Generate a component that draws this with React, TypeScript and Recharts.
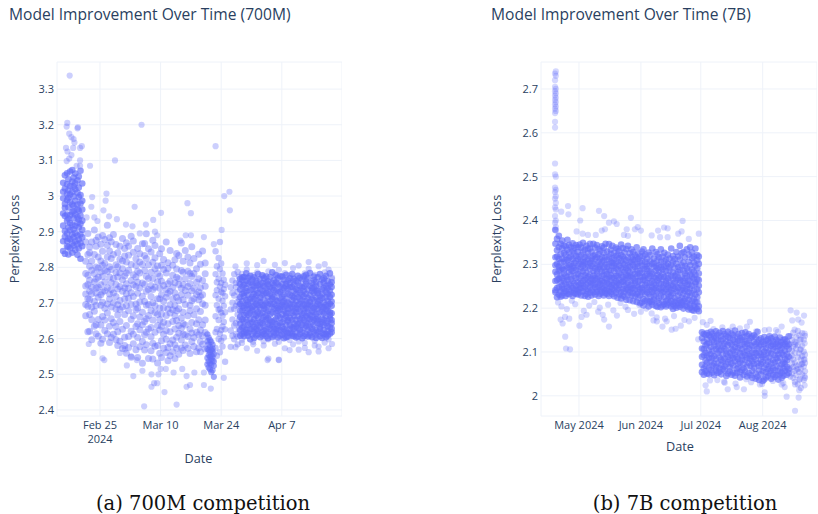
import React from "react";
import { ScatterChart, Scatter, XAxis, YAxis, CartesianGrid } from "recharts";

const FONT = '"Open Sans", sans-serif';
const INK = "#2a3f5f";
const DOT = "#636efa";
const GRID = "#eef2f9";

// ---------- 700M panel: days since Feb 25 2024, loss in thousandths ----------
const xTicks700 = [0, 14, 28, 42];
const xLabels700 = ["Feb 25\n2024", "Mar 10", "Mar 24", "Apr 7"];
const yTicks700 = [2.4, 2.5, 2.6, 2.7, 2.8, 2.9, 3, 3.1, 3.2, 3.3];

const startDays700 = [-8.5, -8.1, -7.6, -7.3, -6.9, -6.4, -6.1, -5.7, -5.2, -4.9, -4.5, -4.1];
const startLoss700 = [
  [2873, 2994, 2917, 3037, 2951, 2846, 3012],
  [2902, 3058, 2967, 2838, 2886, 3021, 2944, 2978],
  [3064, 2931, 2859, 2989, 3006, 2895, 2948, 2874, 3033],
  [2912, 2836, 3047, 2968, 2881, 3016, 2937, 2995, 2857],
  [2983, 3069, 2904, 2853, 3028, 2946, 2879, 2924, 3004],
  [2867, 2955, 3041, 2892, 3011, 2976, 2919, 2841, 3073],
  [3027, 2938, 2884, 2999, 2861, 2957, 3052, 2907, 2972],
  [2948, 2873, 3063, 2916, 3019, 2987, 2849, 2896, 3036],
  [2889, 3009, 2963, 2835, 2925, 3044, 2976, 2865, 2941],
  [3055, 2934, 2997, 2878, 2912, 3024, 2853, 2959],
  [2868, 3003, 2945, 3071, 2893, 2824, 2979, 2922],
  [2962, 2905, 3035, 2859, 2987, 2931, 2884],
];

const cloudDays700 = [-3.3, -2.8, -2.4, -1.9, -1.3, -0.9, -0.4, 0.2, 0.6, 1.1, 1.7, 2.2, 2.6, 3.1, 3.7, 4.1, 4.6, 5.2, 5.7, 6.1, 6.6, 7.2, 7.7, 8.3, 8.7, 9.2, 9.8, 10.3, 10.7, 11.2, 11.8, 12.2, 12.7, 13.3, 13.8, 14.2, 14.7, 15.3, 15.7, 16.2, 16.8, 17.3, 17.7, 18.2, 18.8, 19.2, 19.7, 20.3, 20.8, 21.2, 21.7, 22.3, 22.8, 23.2, 23.7, 24.3];
const cloudLoss700 = [
  [2664, 2783, 2817, 2725, 2871, 2696, 2748],
  [2752, 2619, 2836, 2691, 2778, 2895, 2712],
  [2803, 2733, 2668, 2857, 2621, 2764, 2709, 2841],
  [2688, 2792, 2597, 2744, 2871, 2726, 2818, 2653],
  [2836, 2635, 2759, 2704, 2905, 2783, 2677],
  [2614, 2741, 2859, 2693, 2801, 2767, 2876, 2639, 2728],
  [2772, 2885, 2654, 2716, 2829, 2607, 2744, 2798],
  [2694, 2818, 2587, 2751, 2865, 2638, 2787, 2723],
  [2845, 2731, 2662, 2806, 2598, 2774, 2889, 2702],
  [2623, 2759, 2878, 2685, 2811, 2734, 2652, 2791],
  [2788, 2697, 2862, 2614, 2743, 2829, 2672, 2918],
  [2711, 2846, 2635, 2773, 2589, 2802, 2725, 2883],
  [2757, 2603, 2825, 2689, 2794, 2656, 2872, 2738],
  [2836, 2728, 2645, 2769, 2892, 2701, 2612],
  [2683, 2807, 2597, 2752, 2864, 2718, 2785, 2634],
  [2773, 2619, 2841, 2695, 2581, 2739, 2802, 2666],
  [2859, 2707, 2648, 2784, 2593, 2746, 2682, 2823],
  [2626, 2765, 2881, 2689, 2818, 2572, 2733, 2796],
  [2742, 2604, 2853, 2668, 2776, 2711, 2581, 2832],
  [2815, 2693, 2559, 2754, 2637, 2869, 2726, 2784],
  [2678, 2834, 2606, 2741, 2792, 2575, 2713, 2859],
  [2763, 2621, 2887, 2696, 2548, 2808, 2654, 2729],
  [2842, 2586, 2718, 2664, 2779, 2612, 2751, 2874],
  [2697, 2805, 2634, 2569, 2746, 2824, 2681, 2773],
  [2603, 2758, 2853, 2686, 2727, 2547, 2789, 2642],
  [2784, 2661, 2577, 2815, 2703, 2838, 2625, 2742],
  [2719, 2592, 2866, 2674, 2756, 2531, 2808, 2639],
  [2648, 2791, 2704, 2568, 2833, 2752, 2611, 2867],
  [2825, 2583, 2733, 2656, 2894, 2694, 2775, 2618],
  [2696, 2769, 2544, 2807, 2627, 2738, 2852, 2665],
  [2749, 2605, 2843, 2679, 2566, 2786, 2718, 2631],
  [2587, 2814, 2701, 2652, 2769, 2876, 2738, 2543],
  [2673, 2796, 2618, 2744, 2579, 2827, 2692, 2861],
  [2759, 2637, 2532, 2712, 2804, 2668, 2581, 2783],
  [2624, 2838, 2686, 2741, 2559, 2775, 2653, 2712],
  [2806, 2594, 2723, 2669, 2852, 2547, 2761, 2635],
  [2687, 2749, 2573, 2822, 2612, 2705, 2794, 2646],
  [2561, 2738, 2665, 2871, 2598, 2784, 2716, 2623],
  [2797, 2642, 2727, 2538, 2683, 2813, 2575, 2754],
  [2619, 2761, 2695, 2847, 2586, 2672, 2733, 2552],
  [2744, 2563, 2806, 2648, 2711, 2596, 2778, 2681],
  [2583, 2693, 2821, 2627, 2757, 2544, 2728, 2664],
  [2716, 2839, 2604, 2678, 2772, 2573, 2651, 2795],
  [2637, 2752, 2556, 2706, 2833, 2615, 2684, 2768],
  [2791, 2596, 2723, 2658, 2868, 2574, 2741, 2629],
  [2612, 2709, 2786, 2567, 2674, 2817, 2752, 2642],
  [2735, 2638, 2847, 2582, 2696, 2768, 2611],
  [2573, 2789, 2664, 2722, 2606, 2829, 2746],
  [2694, 2812, 2627, 2755, 2558, 2678, 2783],
  [2645, 2734, 2591, 2858, 2706, 2616, 2774],
  [2783, 2603, 2712, 2667, 2825, 2578, 2741],
  [2618, 2758, 2684, 2796, 2563, 2724, 2642],
  [2709, 2574, 2837, 2653, 2768, 2611, 2731],
  [2592, 2743, 2676, 2809, 2624, 2718, 2563],
  [2763, 2639, 2584, 2723, 2846, 2698, 2608],
  [2617, 2694, 2782, 2571, 2747, 2652, 2812],
];

const dipDays700 = [24.8, 25.1, 25.4, 25.7, 26, 26.3];
const dipLoss700 = [
  [2593, 2546, 2612, 2571, 2528],
  [2554, 2584, 2519, 2536, 2603, 2568],
  [2577, 2531, 2562, 2549, 2596, 2514],
  [2542, 2591, 2568, 2527, 2553, 2506],
  [2565, 2538, 2583, 2511, 2549, 2572],
  [2524, 2557, 2493, 2536],
];

const nextDays700 = [26.7, 27, 27.4, 27.7, 28, 28.3, 28.6, 28.9];
const nextLoss700 = [
  [2663, 2781, 2618, 2722, 2845, 2574],
  [2736, 2627, 2803, 2694, 2758, 2552],
  [2652, 2768, 2599, 2712, 2826, 2681],
  [2795, 2683, 2746, 2614, 2871, 2562],
  [2624, 2731, 2673, 2811, 2594, 2756],
  [2706, 2634, 2783, 2578, 2664, 2728],
  [2647, 2765, 2692, 2603, 2739],
  [2719, 2626, 2674, 2751, 2535],
];

const edgeDays700 = [30.2, 30.6, 31, 31.4, 31.8, 32.1];
const edgeLoss700 = [
  [2623, 2744, 2682, 2577],
  [2701, 2608, 2763, 2654, 2728],
  [2637, 2781, 2684, 2598, 2721],
  [2756, 2613, 2692, 2744, 2643],
  [2606, 2731, 2668, 2787, 2703, 2584],
  [2694, 2627, 2756, 2652, 2712, 2773],
];

const blockDays700 = [32.4, 32.9, 33.3, 33.8, 34.2, 34.7, 35.2, 35.6, 36.1, 36.5, 37, 37.5, 37.9, 38.4, 38.8, 39.3, 39.8, 40.2, 40.7, 41.1, 41.6, 42.1, 42.5, 43, 43.4, 43.9, 44.4, 44.8, 45.3, 45.7, 46.2, 46.7, 47.1, 47.6, 48, 48.5, 49, 49.4, 49.9, 50.3, 50.8, 51.3, 51.7, 52.2, 52.6, 53.1, 53.5];
const blockLoss700 = [
  [2661, 2738, 2624, 2697, 2753, 2642, 2716, 2678, 2768, 2608],
  [2705, 2631, 2764, 2679, 2613, 2726, 2654, 2746, 2691, 2772],
  [2648, 2719, 2607, 2773, 2687, 2634, 2751, 2666, 2729, 2617],
  [2742, 2671, 2625, 2708, 2783, 2653, 2694, 2618, 2762, 2733],
  [2616, 2695, 2754, 2638, 2722, 2667, 2771, 2608, 2703, 2683],
  [2685, 2758, 2643, 2712, 2627, 2776, 2672, 2736, 2598, 2655],
  [2737, 2612, 2679, 2766, 2646, 2704, 2628, 2751, 2689, 2718],
  [2654, 2725, 2602, 2693, 2772, 2633, 2747, 2668, 2711, 2619],
  [2698, 2763, 2627, 2736, 2664, 2609, 2755, 2682, 2643, 2721],
  [2622, 2707, 2674, 2781, 2638, 2749, 2693, 2613, 2728, 2658],
  [2751, 2646, 2715, 2604, 2687, 2767, 2631, 2702, 2669, 2739],
  [2671, 2734, 2618, 2756, 2694, 2643, 2609, 2723, 2778, 2652],
  [2613, 2692, 2747, 2661, 2726, 2635, 2769, 2684, 2708, 2623],
  [2728, 2653, 2607, 2774, 2681, 2741, 2626, 2699, 2665, 2758],
  [2642, 2716, 2761, 2619, 2677, 2733, 2601, 2695, 2752, 2657],
  [2697, 2628, 2744, 2668, 2773, 2612, 2725, 2651, 2706, 2638],
  [2756, 2673, 2634, 2712, 2604, 2786, 2689, 2741, 2646, 2721],
  [2618, 2736, 2683, 2651, 2764, 2698, 2627, 2717, 2609, 2749],
  [2707, 2641, 2778, 2672, 2615, 2733, 2656, 2693, 2757, 2626],
  [2664, 2752, 2623, 2705, 2686, 2769, 2636, 2729, 2603, 2678],
  [2731, 2608, 2691, 2659, 2746, 2624, 2713, 2775, 2643, 2682],
  [2646, 2718, 2774, 2633, 2695, 2611, 2754, 2668, 2737, 2702],
  [2689, 2627, 2742, 2656, 2765, 2705, 2619, 2678, 2724, 2601],
  [2754, 2663, 2712, 2604, 2693, 2638, 2779, 2747, 2621, 2672],
  [2615, 2701, 2648, 2763, 2727, 2671, 2606, 2739, 2684, 2652],
  [2723, 2637, 2769, 2685, 2616, 2744, 2658, 2697, 2626, 2756],
  [2672, 2745, 2609, 2708, 2653, 2781, 2632, 2719, 2689, 2614],
  [2628, 2696, 2751, 2664, 2733, 2607, 2677, 2768, 2642, 2715],
  [2739, 2652, 2618, 2725, 2686, 2762, 2635, 2704, 2603, 2674],
  [2683, 2606, 2757, 2641, 2716, 2663, 2776, 2694, 2629, 2736],
  [2613, 2729, 2676, 2748, 2625, 2698, 2654, 2711, 2771, 2644],
  [2766, 2691, 2638, 2707, 2617, 2743, 2668, 2601, 2724, 2658],
  [2652, 2718, 2775, 2683, 2629, 2734, 2607, 2696, 2746, 2672],
  [2705, 2636, 2761, 2664, 2753, 2612, 2687, 2726, 2645, 2779],
  [2624, 2697, 2658, 2738, 2673, 2606, 2769, 2714, 2641, 2684],
  [2748, 2615, 2703, 2666, 2784, 2632, 2722, 2655, 2693, 2609],
  [2677, 2741, 2628, 2756, 2692, 2647, 2712, 2604, 2733, 2662],
  [2619, 2708, 2764, 2652, 2729, 2675, 2637, 2774, 2686, 2743],
  [2734, 2656, 2691, 2611, 2759, 2623, 2716, 2669, 2602, 2747],
  [2661, 2727, 2643, 2772, 2684, 2735, 2618, 2704, 2651, 2698],
  [2708, 2632, 2753, 2674, 2607, 2719, 2641, 2781, 2693, 2627],
  [2646, 2738, 2689, 2616, 2765, 2656, 2725, 2602, 2714, 2676],
  [2757, 2671, 2624, 2701, 2742, 2638, 2688, 2769, 2612, 2653],
  [2613, 2694, 2748, 2663, 2731, 2604, 2716, 2643, 2776, 2682],
  [2726, 2649, 2707, 2621, 2761, 2678, 2609, 2742, 2691, 2635],
  [2674, 2752, 2632, 2717, 2656, 2783, 2698, 2614, 2734, 2666],
  [2628, 2704, 2745, 2652, 2692, 2618, 2723, 2671, 2758, 2643],
];

const fringeDays700 = [31.3, 32.8, 33.9, 35.4, 36.3, 37.8, 38.9, 40.4, 41.3, 42.7, 43.8, 44.6, 45.9, 47.3, 48.2, 49.6, 50.5, 51.9, 52.8, 53.6];
const fringeLoss700 = [
  [2576, 2803],
  [2588, 2782, 2597],
  [2573, 2794, 2811],
  [2591, 2778, 2584],
  [2566, 2806, 2786],
  [2593, 2775, 2581, 2818],
  [2544, 2789, 2598],
  [2586, 2807, 2781],
  [2541, 2793, 2591],
  [2573, 2812, 2784],
  [2596, 2777, 2568],
  [2584, 2798, 2762],
  [2569, 2805, 2592],
  [2588, 2783, 2574],
  [2562, 2796, 2815],
  [2594, 2779, 2581],
  [2578, 2803, 2564],
  [2589, 2786, 2809],
  [2573, 2794, 2598],
  [2585, 2771, 2768],
];

const outDays700 = [-7, -7.55, -7.7, -5.2, -5.1, -7.1, -6.6, -6.1, -5.9, -4.2, -4.6, -7.85, -7.5, -6.2, -6.6, -7.1, -7.7, -4.6, -5.4, -4.6, -2.3, 9.6, 3.46, 26.7, 1.5, -1.8, 1.3, -2, 8, 0.8, 20.2, 21, 14.1, 29.9, 28.7, 30, 2.1, 3.9, 12.3, 10.6, 6, -1.3, -0.6, -3.1, 28.1, 19.8, 21, 24, 26.3, 12.7, 13.2, 7.5, 9.2, 18.6, -1.5, -2.6, 1, 0.6, 4.6, 5.8, 7.2, 6.2, 8.5, 7.7, 9.8, 11.9, 13.5, 14, 15.2, 17, 19, 20, 21.8, 24, 11.9, 12.5, 13.2, 14.9, 10.2, 17.7, 20, 20.8, 24, 25.6, 28.6, 38.7, 41.3];
const outLoss700 = [3.338, 3.205, 3.195, 3.19, 3.193, 3.175, 3.165, 3.16, 3.15, 3.14, 3.135, 3.135, 3.125, 3.135, 3.115, 3.105, 3.098, 3.1, 3.085, 3.085, 3.085, 3.2, 3.1, 3.14, 3.007, 2.997, 2.987, 2.97, 2.97, 2.96, 2.98, 2.952, 2.953, 3.012, 3, 2.96, 2.943, 2.935, 2.933, 2.92, 2.92, 2.94, 2.93, 2.94, 2.905, 2.89, 2.89, 2.885, 2.865, 2.9, 2.89, 2.915, 2.895, 2.875, 2.56, 2.585, 2.54, 2.545, 2.56, 2.57, 2.55, 2.525, 2.54, 2.495, 2.51, 2.5, 2.5, 2.515, 2.515, 2.505, 2.515, 2.495, 2.505, 2.505, 2.465, 2.475, 2.475, 2.45, 2.41, 2.415, 2.465, 2.47, 2.47, 2.46, 2.49, 2.54, 2.54];

// ---------- 7B panel: days since May 1 2024, loss in thousandths ----------
const xTicks7b = [0, 31, 61, 92];
const xLabels7b = ["May 2024", "Jun 2024", "Jul 2024", "Aug 2024"];
const yTicks7b = [2, 2.1, 2.2, 2.3, 2.4, 2.5, 2.6, 2.7];

const stackDays7b = [-12, -11.6];
const stackLoss7b = [
  [2612, 2625, 2645, 2655, 2665, 2675, 2685, 2695, 2705, 2720, 2735, 2530, 2505, 2475, 2465, 2450, 2430, 2410, 2395, 2380],
  [2650, 2660, 2670, 2680, 2690, 2700, 2730, 2740, 2500, 2470, 2455, 2440, 2425, 2400, 2385],
];

const springDays7b = [-11.8, -11, -10.1, -9.2, -8.4, -7.5, -6.7, -5.8, -4.9, -4.1, -3.2, -2.3, -1.5, -0.6, 0.3, 1.1, 2, 2.9, 3.7, 4.6, 5.5, 6.3, 7.2, 8.1, 8.9, 9.8, 10.7, 11.5, 12.4, 13.3, 14.1, 15, 15.9, 16.7, 17.6, 18.5, 19.3, 20.2, 21.1, 21.9, 22.8, 23.7, 24.5, 25.4, 26.3, 27.1, 28, 28.9, 29.7, 30.6, 31.5, 32.3, 33.2, 34.1, 34.9, 35.8, 36.7, 37.5, 38.4, 39.3, 40.1, 41, 41.9, 42.7, 43.6, 44.5, 45.3, 46.2, 47.1, 47.9, 48.8, 49.7, 50.5, 51.4, 52.3, 53.1, 54, 54.9, 55.7, 56.6, 57.5, 58.3, 59.2, 60];
const springLoss7b = [
  [2347, 2283, 2241, 2316, 2262, 2378, 2298, 2236],
  [2264, 2332, 2225, 2301, 2358, 2277, 2246, 2318],
  [2312, 2248, 2365, 2286, 2231, 2339, 2267, 2295],
  [2238, 2304, 2273, 2347, 2259, 2323, 2226, 2288],
  [2336, 2252, 2291, 2229, 2313, 2268, 2354, 2245],
  [2279, 2343, 2235, 2306, 2261, 2326, 2287, 2244],
  [2322, 2256, 2296, 2228, 2341, 2273, 2311, 2239],
  [2248, 2309, 2271, 2333, 2233, 2292, 2356, 2264],
  [2298, 2232, 2327, 2254, 2283, 2344, 2242, 2315],
  [2266, 2318, 2237, 2301, 2276, 2339, 2251, 2289],
  [2331, 2246, 2285, 2228, 2312, 2262, 2348, 2296],
  [2256, 2303, 2241, 2325, 2274, 2234, 2292, 2337],
  [2308, 2269, 2233, 2344, 2287, 2251, 2319, 2243],
  [2241, 2296, 2328, 2259, 2312, 2231, 2278, 2339],
  [2317, 2254, 2283, 2345, 2236, 2301, 2268, 2245],
  [2273, 2338, 2229, 2293, 2257, 2321, 2246, 2307],
  [2329, 2262, 2306, 2238, 2284, 2349, 2251, 2297],
  [2247, 2316, 2275, 2333, 2228, 2291, 2264, 2305],
  [2302, 2239, 2342, 2268, 2318, 2254, 2281, 2232],
  [2258, 2295, 2325, 2243, 2311, 2272, 2336, 2226],
  [2336, 2276, 2235, 2303, 2261, 2347, 2289, 2248],
  [2241, 2314, 2267, 2296, 2229, 2328, 2256, 2308],
  [2285, 2347, 2253, 2319, 2236, 2274, 2301, 2264],
  [2312, 2247, 2291, 2231, 2338, 2269, 2322, 2255],
  [2237, 2299, 2266, 2344, 2278, 2243, 2316, 2285],
  [2323, 2258, 2306, 2228, 2272, 2335, 2249, 2293],
  [2263, 2331, 2241, 2289, 2312, 2254, 2298, 2233],
  [2304, 2236, 2274, 2341, 2262, 2317, 2284, 2247],
  [2245, 2293, 2326, 2259, 2308, 2229, 2276, 2338],
  [2316, 2268, 2234, 2299, 2252, 2347, 2284, 2241],
  [2257, 2329, 2278, 2243, 2311, 2266, 2233, 2294],
  [2301, 2239, 2346, 2272, 2318, 2255, 2287, 2228],
  [2248, 2286, 2333, 2262, 2306, 2237, 2275, 2324],
  [2314, 2253, 2296, 2232, 2342, 2269, 2303, 2245],
  [2269, 2326, 2241, 2284, 2311, 2256, 2227, 2297],
  [2235, 2302, 2274, 2338, 2249, 2319, 2261, 2291],
  [2321, 2258, 2288, 2224, 2306, 2243, 2273, 2335],
  [2246, 2297, 2331, 2264, 2231, 2314, 2279, 2253],
  [2308, 2236, 2276, 2345, 2259, 2292, 2222, 2321],
  [2261, 2318, 2243, 2288, 2229, 2302, 2271, 2337],
  [2299, 2226, 2264, 2327, 2251, 2312, 2283, 2238],
  [2244, 2291, 2335, 2268, 2309, 2219, 2276, 2254],
  [2316, 2258, 2231, 2297, 2273, 2342, 2241, 2286],
  [2272, 2325, 2236, 2281, 2304, 2248, 2218, 2294],
  [2229, 2306, 2262, 2334, 2244, 2317, 2275, 2253],
  [2311, 2246, 2288, 2216, 2299, 2234, 2268, 2328],
  [2257, 2294, 2321, 2227, 2278, 2242, 2309, 2263],
  [2301, 2233, 2272, 2339, 2251, 2286, 2214, 2316],
  [2248, 2312, 2224, 2279, 2296, 2261, 2325, 2236],
  [2285, 2211, 2263, 2318, 2243, 2304, 2272, 2229],
  [2236, 2297, 2329, 2254, 2213, 2281, 2246, 2308],
  [2319, 2265, 2221, 2289, 2241, 2334, 2271, 2206],
  [2252, 2306, 2232, 2274, 2295, 2217, 2263, 2322],
  [2289, 2218, 2258, 2313, 2236, 2301, 2246, 2277],
  [2213, 2284, 2327, 2249, 2204, 2269, 2296, 2233],
  [2307, 2241, 2273, 2216, 2321, 2258, 2226, 2283],
  [2262, 2301, 2208, 2279, 2237, 2336, 2248, 2214],
  [2228, 2294, 2256, 2313, 2219, 2271, 2243, 2303],
  [2285, 2205, 2246, 2328, 2268, 2231, 2296, 2252],
  [2217, 2276, 2309, 2238, 2263, 2203, 2291, 2323],
  [2298, 2224, 2257, 2211, 2283, 2244, 2316, 2269],
  [2241, 2305, 2202, 2272, 2228, 2293, 2255, 2334],
  [2279, 2214, 2266, 2318, 2236, 2206, 2288, 2247],
  [2209, 2294, 2253, 2226, 2307, 2271, 2238, 2326],
  [2262, 2217, 2311, 2243, 2284, 2204, 2256, 2297],
  [2301, 2232, 2275, 2208, 2322, 2249, 2268, 2219],
  [2226, 2286, 2246, 2313, 2212, 2261, 2293, 2237],
  [2274, 2204, 2253, 2336, 2228, 2299, 2241, 2216],
  [2209, 2266, 2306, 2234, 2281, 2198, 2319, 2251],
  [2292, 2223, 2258, 2205, 2273, 2244, 2312, 2214],
  [2238, 2301, 2201, 2264, 2217, 2328, 2278, 2249],
  [2283, 2211, 2246, 2294, 2229, 2206, 2269, 2318],
  [2203, 2257, 2311, 2236, 2287, 2218, 2342, 2264],
  [2271, 2224, 2298, 2208, 2251, 2325, 2242, 2213],
  [2216, 2285, 2233, 2304, 2199, 2262, 2328, 2246],
  [2296, 2206, 2258, 2221, 2279, 2239, 2316, 2268],
  [2228, 2273, 2204, 2334, 2252, 2291, 2213, 2243],
  [2263, 2197, 2306, 2236, 2284, 2219, 2322, 2254],
  [2209, 2276, 2245, 2298, 2201, 2339, 2229, 2261],
  [2288, 2216, 2314, 2251, 2196, 2272, 2234, 2327],
  [2241, 2304, 2206, 2268, 2221, 2283, 2318, 2194],
  [2276, 2201, 2255, 2336, 2214, 2297, 2231, 2259],
  [2213, 2291, 2243, 2198, 2309, 2266, 2225, 2321],
  [2264, 2204, 2318, 2236, 2279, 2193, 2251, 2301],
];

const summerDays7b = [61.6, 62.5, 63.4, 64.2, 65.1, 66, 66.8, 67.7, 68.6, 69.4, 70.3, 71.2, 72, 72.9, 73.8, 74.6, 75.5, 76.4, 77.2, 78.1, 79, 79.8, 80.7, 81.6, 82.4, 83.3, 84.2, 85, 85.9, 86.8, 87.6, 88.5, 89.4, 90.2, 91.1, 92, 92.8, 93.7, 94.6, 95.4, 96.3, 97.2, 98, 98.9, 99.8, 100.6, 101.5, 102.4, 103.2, 104.1, 105];
const summerLoss7b = [
  [2132, 2071, 2108, 2054, 2145, 2089],
  [2062, 2124, 2093, 2141, 2048, 2107],
  [2115, 2056, 2139, 2081, 2098, 2068],
  [2076, 2143, 2051, 2118, 2092, 2129],
  [2138, 2087, 2064, 2104, 2049, 2121],
  [2059, 2112, 2146, 2078, 2095, 2134],
  [2101, 2069, 2127, 2053, 2142, 2086],
  [2123, 2047, 2091, 2114, 2073, 2136],
  [2084, 2131, 2058, 2106, 2147, 2066],
  [2052, 2097, 2125, 2074, 2139, 2112],
  [2118, 2063, 2088, 2144, 2055, 2103],
  [2071, 2136, 2105, 2049, 2126, 2082],
  [2129, 2094, 2061, 2148, 2079, 2113],
  [2058, 2108, 2141, 2085, 2119, 2067],
  [2096, 2045, 2124, 2072, 2137, 2103],
  [2134, 2077, 2051, 2116, 2089, 2146],
  [2065, 2121, 2098, 2056, 2132, 2083],
  [2107, 2142, 2074, 2117, 2048, 2092],
  [2086, 2053, 2128, 2104, 2138, 2069],
  [2123, 2079, 2046, 2111, 2094, 2149],
  [2061, 2135, 2088, 2052, 2119, 2101],
  [2109, 2073, 2141, 2084, 2064, 2126],
  [2054, 2097, 2131, 2076, 2115, 2042],
  [2128, 2083, 2059, 2106, 2143, 2091],
  [2072, 2118, 2048, 2099, 2134, 2063],
  [2112, 2145, 2081, 2055, 2124, 2093],
  [2067, 2103, 2137, 2044, 2087, 2119],
  [2095, 2052, 2126, 2075, 2141, 2108],
  [2132, 2069, 2091, 2116, 2047, 2084],
  [2057, 2113, 2079, 2136, 2098, 2041],
  [2104, 2138, 2064, 2088, 2123, 2072],
  [2083, 2051, 2118, 2097, 2133, 2039],
  [2121, 2074, 2044, 2107, 2146, 2092],
  [2058, 2099, 2128, 2068, 2113, 2036],
  [2094, 2131, 2049, 2082, 2117, 2073],
  [2034, 2106, 2077, 2123, 2056, 2089],
  [2118, 2064, 2093, 2037, 2134, 2101],
  [2071, 2042, 2109, 2085, 2126, 2054],
  [2098, 2129, 2061, 2116, 2045, 2078],
  [2052, 2088, 2122, 2067, 2103, 2136],
  [2114, 2039, 2096, 2074, 2131, 2057],
  [2082, 2124, 2048, 2107, 2063, 2117],
  [2043, 2093, 2135, 2076, 2112, 2058],
  [2119, 2068, 2102, 2047, 2086, 2128],
  [2079, 2037, 2113, 2094, 2056, 2124],
  [2104, 2133, 2064, 2087, 2116, 2049],
  [2053, 2097, 2122, 2072, 2108, 2041],
  [2116, 2076, 2046, 2093, 2128, 2062],
  [2084, 2129, 2057, 2103, 2073, 2118],
  [2048, 2095, 2113, 2066, 2124, 2081],
  [2107, 2061, 2136, 2089, 2052, 2117],
];

const lateDays7b = [105.8, 106.6, 107.3, 108.1, 108.8, 109.6, 110.3, 111.1, 111.8, 112.6, 113.2];
const lateLoss7b = [
  [2063, 2118, 2087, 2044, 2136],
  [2103, 2051, 2127, 2074, 2092],
  [2041, 2144, 2083, 2112, 2066],
  [2123, 2076, 2032, 2098, 2057],
  [2069, 2134, 2108, 2047, 2121],
  [2088, 2026, 2116, 2061, 2148],
  [2037, 2097, 2071, 2138, 2054],
  [2129, 2083, 2018, 2106, 2062],
  [2049, 2114, 2073, 2143, 2091],
  [2101, 2036, 2067, 2128, 2082],
  [2056, 2137, 2094, 2041, 2075],
];

const outDays7b = [-5.5, 1.8, -5.3, -8.9, 10, 12.6, 0.6, 15, 17.5, 18.9, 26, 51.9, 29.4, 28, 42.6, 44.4, 39.6, 31, 13, 11.4, 23.9, 51.4, 49.7, 60, 8.4, 22.5, 24.5, -1.2, 1.8, 4.5, 36.4, 55, 40.6, 44.4, -6.9, -6.5, -4.5, -9.2, -8.2, -7, -4.9, 0.2, 1.3, 3.8, 9.6, 12.6, 11.9, 15, 19, 24.5, 31, 36.4, 37.3, 39, 41.8, 43.9, 46.4, 48.4, 51, 55.1, 59.7, -10.5, -8.8, -6.1, -3.6, -1.9, 2.4, 5.1, 7.7, 10.4, 14.6, 17.2, 20.8, 23.3, 27.6, 30.2, 33.7, 38.9, 43.1, 47.6, 52.8, 57.9, 65.9, 62, 64, 77, 85.6, 93, 101.5, 98.7, 106, 109, 112.7, 106.8, 109.8, 111.5, 108, 113, 110.7, 113, 108.2, 110.7, 113, 111.5, 109, 113, 110.7, 108.2, 113, 110.3, 104, 110, 108.2, 93, 93, 64, 63.4, 74.5, 82.6, 79, 73, 65.6, 90.6, 101.5, 103, 67.4, 71.8, 75.3, 80.6, 84.1, 88.7, 95.2, 99.6, 69.3, 72.6, 78.4, 83.8, 86.2, 91.7, 97.1, 102.3];
const outLoss7b = [2.433, 2.428, 2.414, 2.42, 2.422, 2.41, 2.4, 2.395, 2.398, 2.392, 2.406, 2.399, 2.385, 2.38, 2.384, 2.382, 2.377, 2.377, 2.38, 2.377, 2.38, 2.375, 2.37, 2.37, 2.367, 2.367, 2.365, 2.375, 2.37, 2.367, 2.366, 2.358, 2.362, 2.362, 2.135, 2.108, 2.106, 2.174, 2.165, 2.18, 2.176, 2.16, 2.18, 2.185, 2.192, 2.174, 2.185, 2.158, 2.183, 2.196, 2.192, 2.188, 2.172, 2.17, 2.158, 2.17, 2.151, 2.153, 2.16, 2.17, 2.129, 2.213, 2.204, 2.198, 2.217, 2.209, 2.194, 2.206, 2.214, 2.201, 2.208, 2.195, 2.212, 2.203, 2.187, 2.207, 2.199, 2.179, 2.176, 2.182, 2.173, 2.178, 2.171, 2.168, 2.162, 2.158, 2.169, 2.15, 2.158, 2.15, 2.195, 2.19, 2.183, 2.172, 2.174, 2.167, 2.151, 2.142, 2.128, 2.12, 2.117, 2.105, 2.083, 2.072, 2.06, 2.045, 2.038, 2.026, 2.024, 2.013, 1.998, 1.996, 1.966, 2, 2.008, 2.01, 2.024, 2.015, 2.015, 2.02, 2.03, 2.035, 2.026, 2.026, 2.02, 2.152, 2.156, 2.149, 2.154, 2.158, 2.147, 2.151, 2.146, 2.036, 2.032, 2.028, 2.038, 2.031, 2.027, 2.034, 2.029];

type Pt = { d: number; v: number };
const columns = (days: number[], loss: number[][]): Pt[] =>
  days.flatMap((d, i) => loss[i].map((t) => ({ d, v: t / 1000 })));
const pairs = (days: number[], loss: number[]): Pt[] => days.map((d, i) => ({ d, v: loss[i] }));

const dot = (opacity: number, r: number) => (p: any) => (
  <circle cx={p.cx} cy={p.cy} r={r} fill={DOT} fillOpacity={opacity} />
);

const tickStyle = { fontSize: 11, fontFamily: FONT, fill: INK };

const XTick = ({ x, y, payload, ticks, labels }: any) => {
  const lines: string[] = labels[ticks.indexOf(payload.value)].split("\n");
  return (
    <text x={x} y={y} textAnchor="middle" fontSize={11} fontFamily={FONT} fill={INK}>
      {lines.map((line, i) => (
        <tspan key={line} x={x} dy={i === 0 ? 11 : 14}>
          {line}
        </tspan>
      ))}
    </text>
  );
};

type Layer = { key: string; data: Pt[]; opacity: number; r: number };

const Panel = ({ left, width, xDomain, yDomain, xTicks, xLabels, yTicks, layers }: any) => (
  <div style={{ position: "absolute", left, top: 0 }}>
    <ScatterChart width={width} height={456} margin={{ top: 62, right: 0, bottom: 0, left: 0 }}>
      <CartesianGrid stroke={GRID} strokeWidth={1} />
      <XAxis
        type="number"
        dataKey="d"
        domain={xDomain}
        ticks={xTicks}
        height={40}
        axisLine={false}
        tickLine={false}
        tickSize={0}
        interval={0}
        tick={(props: any) => <XTick {...props} ticks={xTicks} labels={xLabels} />}
      />
      <YAxis
        type="number"
        dataKey="v"
        domain={yDomain}
        ticks={yTicks}
        width={57}
        axisLine={false}
        tickLine={false}
        tickSize={0}
        tickMargin={3}
        interval={0}
        tick={tickStyle}
      />
      {layers.map((l: Layer) => (
        <Scatter key={l.key} data={l.data} isAnimationActive={false} shape={dot(l.opacity, l.r)} />
      ))}
    </ScatterChart>
  </div>
);

const Text = ({ x, y, children, size = 12.7, center = false, rotate = false, color = INK, family = FONT }: any) => (
  <div
    style={{
      position: "absolute",
      left: x,
      top: y,
      fontSize: size,
      fontFamily: family,
      color,
      whiteSpace: "nowrap",
      lineHeight: 1,
      transform: `translate(${center ? "-50%" : "0"}, -50%)${rotate ? " rotate(-90deg)" : ""}`,
    }}
  >
    {children}
  </div>
);

const layers700: Layer[] = [
  { key: "start", data: columns(startDays700, startLoss700), opacity: 0.68, r: 3.3 },
  { key: "cloud", data: columns(cloudDays700, cloudLoss700), opacity: 0.42, r: 3.5 },
  { key: "dip", data: columns(dipDays700, dipLoss700), opacity: 0.6, r: 3.1 },
  { key: "next", data: columns(nextDays700, nextLoss700), opacity: 0.4, r: 3.2 },
  { key: "edge", data: columns(edgeDays700, edgeLoss700), opacity: 0.4, r: 3.2 },
  { key: "fringe", data: columns(fringeDays700, fringeLoss700), opacity: 0.33, r: 3.1 },
  { key: "block", data: columns(blockDays700, blockLoss700), opacity: 0.7, r: 3.3 },
  { key: "out", data: pairs(outDays700, outLoss700), opacity: 0.33, r: 3.1 },
];

const layers7b: Layer[] = [
  { key: "stack", data: columns(stackDays7b, stackLoss7b), opacity: 0.28, r: 3.1 },
  { key: "out", data: pairs(outDays7b, outLoss7b), opacity: 0.28, r: 3.1 },
  { key: "late", data: columns(lateDays7b, lateLoss7b), opacity: 0.32, r: 3.1 },
  { key: "spring", data: columns(springDays7b, springLoss7b), opacity: 0.66, r: 3.3 },
  { key: "summer", data: columns(summerDays7b, summerLoss7b), opacity: 0.66, r: 3.3 },
];

export default function App() {
  return (
    <div style={{ position: "absolute", left: 0, top: 0, width: 818, height: 514, background: "#fff", overflow: "hidden" }}>
      <Panel
        left={0}
        width={342}
        xDomain={[-9.93, 55.9]}
        yDomain={[2.383, 3.376]}
        xTicks={xTicks700}
        xLabels={xLabels700}
        yTicks={yTicks700}
        layers={layers700}
      />
      <Panel
        left={484}
        width={333}
        xDomain={[-19.03, 119.2]}
        yDomain={[1.954, 2.7615]}
        xTicks={xTicks7b}
        xLabels={xLabels7b}
        yTicks={yTicks7b}
        layers={layers7b}
      />
      <Text x={9} y={15} size={15.6}>Model Improvement Over Time (700M)</Text>
      <Text x={491} y={15} size={15.6}>Model Improvement Over Time (7B)</Text>
      <Text x={14} y={239} center rotate>Perplexity Loss</Text>
      <Text x={496} y={239} center rotate>Perplexity Loss</Text>
      <Text x={198.5} y={458} center>Date</Text>
      <Text x={680} y={446} center>Date</Text>
      <Text x={203} y={504} center size={19.5} color="#111" family='"DejaVu Serif", serif'>(a) 700M competition</Text>
      <Text x={685} y={504} center size={19.5} color="#111" family='"DejaVu Serif", serif'>(b) 7B competition</Text>
    </div>
  );
}
